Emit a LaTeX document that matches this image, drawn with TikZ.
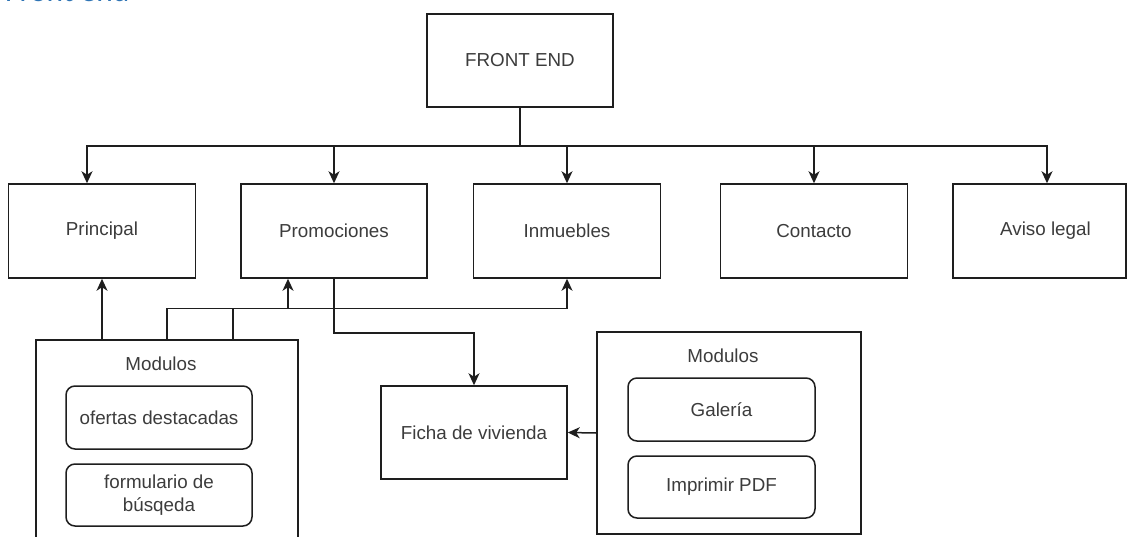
\documentclass[tikz,border=0pt]{standalone}
\usepackage{fontspec}
\setmainfont{Liberation Sans}
\newfontfamily\headfont{Carlito}
\usetikzlibrary{arrows.meta}
\definecolor{linegray}{RGB}{30,30,30}
\definecolor{textgray}{RGB}{60,60,60}
\definecolor{headblue}{RGB}{46,116,181}
\tikzset{
  box/.style={draw=linegray, line width=1.5pt, fill=white, inner sep=0pt,
    align=center, text=textgray, font=\fontsize{18.8}{22.5}\selectfont},
  roundbox/.style={box, rounded corners=9pt},
  conn/.style={draw=linegray, line width=1.5pt},
  arr/.style={conn, -{Stealth[length=12pt, width=11pt, inset=3.5pt]}},
  caption/.style={text=textgray, font=\fontsize{18.8}{22.5}\selectfont, inner sep=0pt}
}
\begin{document}
\begin{tikzpicture}[x=1pt, y=-1pt]
\useasboundingbox (0,0) rectangle (1127,536);
\clip (0,0) rectangle (1127,536);
\fill[white] (0,0) rectangle (1127,536);

% page heading, cut by the top edge
\node[anchor=base west, inner sep=0pt, text=headblue,
      font=\headfont\fontsize{31.5}{36}\selectfont] (heading) at (5,1) {Front end};

% top level
\node[box, minimum width=186pt, minimum height=93pt] (fe) at (520,60.5) {FRONT END};

% sections
\node[box, minimum width=187pt, minimum height=94pt] (principal) at (102,231) {Principal};
\node[box, minimum width=186pt, minimum height=94pt] (promo) at (334,231) {Promociones};
\node[box, minimum width=187pt, minimum height=94pt] (inm) at (567,231) {Inmuebles};
\node[box, minimum width=187pt, minimum height=94pt] (contacto) at (814,231) {Contacto};
\node[box, minimum width=173pt, minimum height=94pt] (aviso) at (1039.5,231) {\hspace*{12pt}Aviso legal};

% detail page
\node[box, minimum width=186pt, minimum height=93pt] (ficha) at (474,432.5) {Ficha de vivienda};

% module containers
\node[box, minimum width=262pt, minimum height=240pt] (modL) at (167,460) {};
\node[caption] (modLlabel) at (161,364) {Modulos};
\node[roundbox, minimum width=186pt, minimum height=63pt] (ofertas) at (159,417.5) {ofertas destacadas};
\node[roundbox, minimum width=186pt, minimum height=62pt] (form) at (159,495) {formulario de\\búsqeda};

\node[box, minimum width=264pt, minimum height=202pt] (modR) at (729,433) {};
\node[caption] (modRlabel) at (723,356) {Modulos};
\node[roundbox, minimum width=187pt, minimum height=63pt] (galeria) at (721.5,409.5) {Galería};
\node[roundbox, minimum width=187pt, minimum height=62pt] (pdf) at (721.5,487) {Imprimir PDF};

% distribution bus from the top box
\coordinate (bus) at (520,146);
\draw[conn] (fe.south) -- (bus);
\draw[arr] (bus) -| ([xshift=-15pt]principal.north);
\draw[arr] (bus) -| (promo.north);
\draw[arr] (bus) -| (inm.north);
\draw[arr] (bus) -| (contacto.north);
\draw[arr] (bus) -| ([xshift=7.5pt]aviso.north);

% left modules feed the sections
\draw[arr] (principal.south |- modL.north) -- (principal.south);
\draw[arr] (modL.north) -- ++(0,-31) -| (inm.south);
\draw[arr] ([xshift=66pt]modL.north) -- ++(0,-31) -| ([xshift=-46pt]promo.south);

% promotions lead to the detail page
\draw[arr] (promo.south) -- ++(0,54) -| (ficha.north);

% right modules feed the detail page
\draw[arr] (modR.west) -- (ficha.east);
\end{tikzpicture}
\end{document}
